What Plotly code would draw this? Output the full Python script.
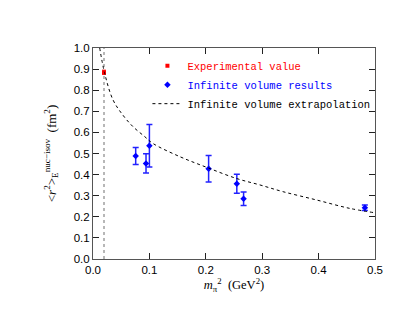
import plotly.graph_objects as go

# experimental point
exp_x = [0.0195]
exp_y = [0.885]
exp_err = [0.01]

# lattice results, infinite volume
lat_x = [0.0757, 0.094, 0.100, 0.205, 0.255, 0.267, 0.482]
lat_y = [0.488, 0.453, 0.537, 0.428, 0.357, 0.286, 0.243]
lat_err = [0.040, 0.046, 0.101, 0.063, 0.045, 0.032, 0.013]

# extrapolation curve
curve_x = [0.0119, 0.0207, 0.0355, 0.053, 0.071, 0.0917, 0.106, 0.154,
           0.201, 0.254, 0.296, 0.337, 0.396, 0.455, 0.5]
curve_y = [1.0, 0.88, 0.754, 0.682, 0.627, 0.58, 0.548, 0.485,
           0.435, 0.382, 0.351, 0.319, 0.28, 0.24, 0.219]

# physical pion mass line
phys_x = [0.0195, 0.0195]
phys_y = [0.0, 1.0]

x_ticks = [0.0, 0.1, 0.2, 0.3, 0.4, 0.5]
y_ticks = [0.0, 0.1, 0.2, 0.3, 0.4, 0.5, 0.6, 0.7, 0.8, 0.9, 1.0]

SANS = "Liberation Sans, Arial, sans-serif"
SERIF = "Liberation Serif, Times New Roman, serif"
MONO = "Liberation Mono, Courier New, monospace"

fig = go.Figure()

fig.add_trace(go.Scatter(
    x=phys_x, y=phys_y, mode="lines",
    line={"color": "#888888", "width": 1.2, "dash": "dot"},
    showlegend=False, hoverinfo="skip",
))

fig.add_trace(go.Scatter(
    x=exp_x, y=exp_y, mode="markers",
    name="<span style='color:#ff0000'>Experimental value</span>",
    marker={"symbol": "square", "size": 4, "color": "#ff0000"},
    error_y={"type": "data", "array": exp_err, "color": "#ff0000",
             "thickness": 1, "width": 2},
))

fig.add_trace(go.Scatter(
    x=lat_x, y=lat_y, mode="markers",
    name="<span style='color:#0000ff'>Infinite volume results</span>",
    marker={"symbol": "diamond", "size": 5, "color": "#0000ff"},
    error_y={"type": "data", "array": lat_err, "color": "#2222ff",
             "thickness": 1.5, "width": 3},
))

fig.add_trace(go.Scatter(
    x=curve_x, y=curve_y, mode="lines", line_shape="spline",
    name="Infinite volume extrapolation",
    line={"color": "#000000", "width": 1, "dash": "dot"},
))

# page body adds an 8px offset, so the figure is drawn 8px smaller
fig.update_layout(
    width=407, height=313,
    paper_bgcolor="white", plot_bgcolor="white",
    margin={"l": 85, "r": 40, "t": 40, "b": 62},
    font={"family": SANS, "size": 11.5, "color": "#000000"},
    legend={
        "x": 0.193, "y": 0.985, "xanchor": "left", "yanchor": "top",
        "bgcolor": "rgba(0,0,0,0)",
        "font": {"family": MONO, "size": 10.5, "color": "#000000"},
        "itemwidth": 30, "tracegroupgap": 0,
    },
)

fig.update_xaxes(
    range=[0, 0.5], tickvals=x_ticks, tickformat=".1f",
    ticks="inside", ticklen=6, tickcolor="#222222",
    showline=True, linecolor="#555555", linewidth=1, mirror="ticks",
    showgrid=False, zeroline=False,
    title={"text": "<i>m</i><sub>π</sub><sup>2</sup>  (GeV<sup>2</sup>)",
           "font": {"family": SERIF, "size": 12.5}, "standoff": 0},
)
fig.update_yaxes(
    range=[0, 1.0], tickvals=y_ticks, tickformat=".1f",
    ticks="inside", ticklen=6, tickcolor="#222222",
    showline=True, linecolor="#555555", linewidth=1, mirror="ticks",
    showgrid=False, zeroline=False, automargin=True,
    title={"text": "&lt;<i>r</i><sup>2</sup>&gt;<sub>E</sub><sup>nuc−isov</sup>  (fm<sup>2</sup>)",
           "font": {"family": SERIF, "size": 13}, "standoff": 14},
)

fig.write_html("out.html")
